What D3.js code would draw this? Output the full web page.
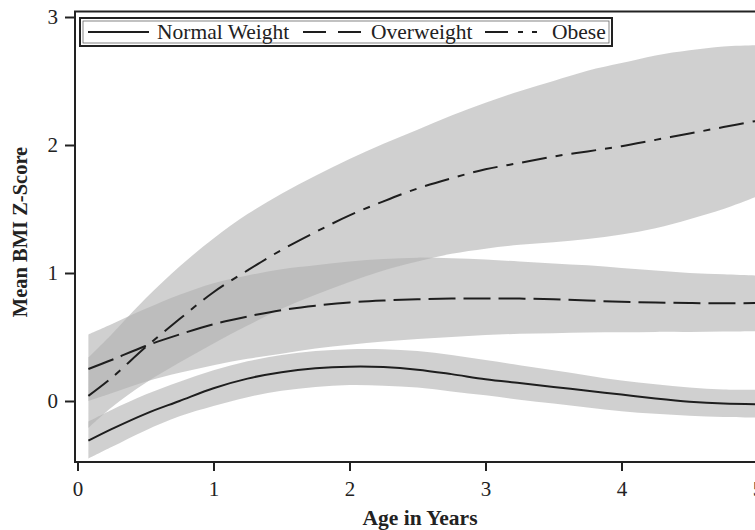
<!DOCTYPE html>
<html><head><meta charset="utf-8">
<script src="https://cdn.jsdelivr.net/npm/d3@7"></script>
<style>body{margin:0;background:#fff}svg{display:block}text{font-family:"Liberation Serif","Times New Roman",serif;fill:#222}</style>
</head><body><svg id="c" width="755" height="530"></svg>
<script>
const ages = [0.08,0.25,0.5,0.75,1,1.25,1.5,1.75,2,2.25,2.5,2.75,3,3.25,3.5,3.75,4,4.25,4.5,4.75,5];
const normalMean  = [-0.31,-0.22,-0.10,0.00,0.10,0.175,0.225,0.255,0.268,0.265,0.245,0.21,0.17,0.14,0.11,0.08,0.05,0.02,-0.005,-0.02,-0.025];
const normalUpper = [-0.16,-0.07,0.05,0.15,0.24,0.31,0.36,0.39,0.405,0.405,0.39,0.36,0.32,0.28,0.24,0.20,0.16,0.13,0.105,0.09,0.088];
const normalLower = [-0.45,-0.36,-0.23,-0.12,-0.04,0.03,0.08,0.11,0.125,0.12,0.105,0.075,0.045,0.01,-0.02,-0.05,-0.08,-0.10,-0.115,-0.125,-0.13];
const overMean  = [0.25,0.32,0.43,0.52,0.60,0.66,0.71,0.745,0.77,0.785,0.795,0.80,0.80,0.80,0.795,0.785,0.775,0.77,0.765,0.763,0.765];
const overUpper = [0.52,0.60,0.72,0.83,0.92,0.98,1.03,1.06,1.09,1.11,1.12,1.115,1.105,1.09,1.075,1.06,1.04,1.02,1.0,0.99,0.98];
const overLower = [0.0,0.06,0.15,0.22,0.28,0.33,0.37,0.41,0.44,0.465,0.485,0.50,0.515,0.525,0.53,0.535,0.537,0.54,0.54,0.542,0.545];
const obeseMean  = [0.04,0.18,0.42,0.64,0.85,1.02,1.18,1.32,1.45,1.56,1.66,1.74,1.81,1.86,1.91,1.95,1.99,2.04,2.09,2.14,2.19];
const obeseUpper = [0.34,0.52,0.80,1.05,1.27,1.46,1.62,1.76,1.89,2.01,2.12,2.23,2.33,2.42,2.50,2.58,2.64,2.70,2.74,2.77,2.78];
const obeseLower = [-0.21,-0.05,0.14,0.30,0.45,0.59,0.72,0.83,0.93,1.02,1.09,1.15,1.19,1.22,1.24,1.265,1.30,1.35,1.42,1.50,1.60];
const seriesNames = ["Normal Weight","Overweight","Obese"];
const xTicks = [0,1,2,3,4,5];
const yTicks = [0,1,2,3];

const svg = d3.select("#c");
const x = d3.scaleLinear().domain([0,5]).range([77.5,757.5]);
const y = d3.scaleLinear().domain([0,3]).range([401,17]);
const pL = 75, pT = 11.5, pB = 462, pR = 760;

svg.append("clipPath").attr("id","clip").append("rect")
  .attr("x",pL).attr("y",pT).attr("width",pR-pL).attr("height",pB-pT);

const series = [
  {mean:normalMean, up:normalUpper, lo:normalLower, dash:null},
  {mean:overMean, up:overUpper, lo:overLower, dash:"27,8"},
  {mean:obeseMean, up:obeseUpper, lo:obeseLower, dash:"25,9,7,9"}
];
const g = svg.append("g").attr("clip-path","url(#clip)");
const area = d3.area().x((d,i)=>x(ages[i])).y0(d=>y(d[0])).y1(d=>y(d[1])).curve(d3.curveCatmullRom.alpha(0.5));
const line = d3.line().x((d,i)=>x(ages[i])).y(d=>y(d)).curve(d3.curveCatmullRom.alpha(0.5));
series.forEach(s=>{
  g.append("path").datum(ages.map((a,i)=>[s.lo[i],s.up[i]]))
    .attr("d",area).attr("fill","#b0b0b0").attr("fill-opacity",0.6);
});
series.forEach(s=>{
  g.append("path").datum(s.mean).attr("d",line).attr("fill","none")
    .attr("stroke","#1e1e1e").attr("stroke-width",2).attr("stroke-dasharray",s.dash);
});

// frame
svg.append("path").attr("d",`M${pR},${pT}H${pL}V${pB}H${pR}`)
  .attr("fill","none").attr("stroke","#222").attr("stroke-width",2);

// x axis
const xa = svg.append("g").attr("transform",`translate(0,${pB})`)
  .call(d3.axisBottom(x).tickValues(xTicks).tickSize(9).tickSizeOuter(0).tickFormat(d3.format("d")));
xa.select(".domain").remove();
xa.selectAll("line").attr("stroke","#222").attr("stroke-width",2);
xa.selectAll("text").attr("font-size",21).attr("font-family","Liberation Serif").attr("fill","#222").attr("dy","1.05em");

const ya = svg.append("g").attr("transform",`translate(${pL},0)`)
  .call(d3.axisLeft(y).tickValues(yTicks).tickSize(10).tickSizeOuter(0).tickFormat(d3.format("d")));
ya.select(".domain").remove();
ya.selectAll("line").attr("stroke","#222").attr("stroke-width",2);
ya.selectAll("text").attr("font-size",21).attr("font-family","Liberation Serif").attr("fill","#222").attr("x",-17);

svg.append("text").attr("x",420).attr("y",525).attr("text-anchor","middle")
  .attr("font-size",21.5).attr("font-weight","bold").text("Age in Years");
svg.append("text").attr("transform","translate(27,232) rotate(-90)").attr("text-anchor","middle")
  .attr("font-size",20.5).attr("font-weight","bold").text("Mean BMI Z-Score");

// legend
const lg = svg.append("g");
lg.append("rect").attr("x",80).attr("y",18).attr("width",532).attr("height",28)
  .attr("fill","#fff").attr("stroke","#222").attr("stroke-width",2);
lg.append("rect").attr("x",83).attr("y",21).attr("width",526).attr("height",22)
  .attr("fill","none").attr("stroke","#666").attr("stroke-width",0.8);
const legItems = [
  {x0:88,x1:149,tx:157,dash:null},
  {x0:303,x1:362,tx:371,dash:"23,12"},
  {x0:485,x1:540,tx:552,dash:"23,10,5,9,5,20"}
];
legItems.forEach((it,i)=>{
  lg.append("line").attr("x1",it.x0).attr("x2",it.x1).attr("y1",32).attr("y2",32)
    .attr("stroke","#1e1e1e").attr("stroke-width",2).attr("stroke-dasharray",it.dash);
  lg.append("text").attr("x",it.tx).attr("y",38.5).attr("font-size",21.5).text(seriesNames[i]);
});
</script></body></html>
